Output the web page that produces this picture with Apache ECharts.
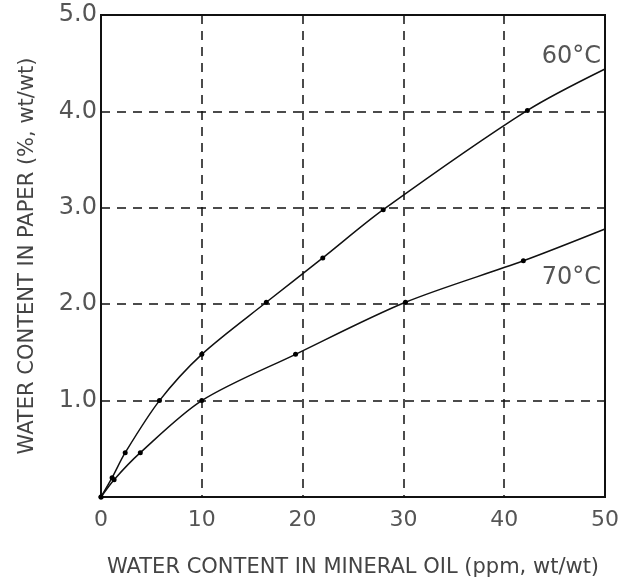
<!DOCTYPE html>
<html><head><meta charset="utf-8">
<script src="https://cdn.jsdelivr.net/npm/echarts@6/dist/echarts.min.js"></script>
<style>html,body{margin:0;padding:0;background:#fff}#c{width:628px;height:588px}</style>
</head><body><div id="c"></div>
<script>
const xTicks = [0, 10, 20, 30, 40, 50];
const yTicks = [0, 1, 2, 3, 4, 5];
const x60 = [0, 1.1, 2.4, 5.8, 10, 16.4, 22, 28, 42.3, 50];
const y60 = [0, 0.2, 0.46, 1.0, 1.48, 2.02, 2.48, 2.98, 4.01, 4.44];
const x70 = [0, 1.3, 3.9, 10, 19.3, 30.2, 41.9, 50];
const y70 = [0, 0.18, 0.46, 1.0, 1.48, 2.02, 2.45, 2.78];
const seriesNames = ['60°C', '70°C'];

function pts(xs, ys) {
  return xs.map((x, i) => ({ value: [x, ys[i]], symbol: i === xs.length - 1 ? 'none' : 'circle' }));
}
const font = 'DejaVu Sans';
const chart = echarts.init(document.getElementById('c'));
chart.setOption({
  animation: false,
  grid: { left: 101, right: 23, top: 15, bottom: 91, show: true, borderColor: '#111', borderWidth: 2 },
  xAxis: {
    type: 'value', min: xTicks[0], max: xTicks[xTicks.length - 1], interval: 10,
    name: 'WATER CONTENT IN MINERAL OIL (ppm, wt/wt)', nameLocation: 'middle', nameGap: 60,
    nameTextStyle: { fontFamily: font, fontSize: 21, color: '#444' },
    axisLine: { lineStyle: { color: '#111', width: 2 } },
    axisTick: { show: false },
    axisLabel: { fontFamily: font, fontSize: 22, color: '#555', margin: 12 },
    splitLine: { show: true, lineStyle: { color: '#111', type: [9, 7], width: 1.5 } }
  },
  yAxis: {
    type: 'value', min: yTicks[0], max: yTicks[yTicks.length - 1], interval: 1,
    name: 'WATER CONTENT IN PAPER (%, wt/wt)', nameLocation: 'middle', nameGap: 63, nameRotate: 90,
    nameTextStyle: { fontFamily: font, fontSize: 21, color: '#444' },
    axisLine: { lineStyle: { color: '#111', width: 2 } },
    axisTick: { show: false },
    axisLabel: { fontFamily: font, fontSize: 24, color: '#555', margin: 4,
      formatter: v => v === 0 ? '' : v.toFixed(1) },
    splitLine: { show: true, lineStyle: { color: '#111', type: [9, 7], width: 1.5 } }
  },
  series: [
    { name: seriesNames[0], type: 'line', smooth: 0.3, data: pts(x60, y60),
      symbolSize: 5, itemStyle: { color: '#000' }, lineStyle: { color: '#111', width: 1.5 },
      endLabel: { show: true, formatter: seriesNames[0], fontFamily: font, fontSize: 24, color: '#555',
        align: 'right', verticalAlign: 'bottom', offset: [-12, 0] } },
    { name: seriesNames[1], type: 'line', smooth: 0.3, data: pts(x70, y70),
      symbolSize: 5, itemStyle: { color: '#000' }, lineStyle: { color: '#111', width: 1.5 },
      endLabel: { show: true, formatter: seriesNames[1], fontFamily: font, fontSize: 24, color: '#555',
        align: 'right', verticalAlign: 'top', offset: [-12, 37] } }
  ]
});
</script></body></html>
